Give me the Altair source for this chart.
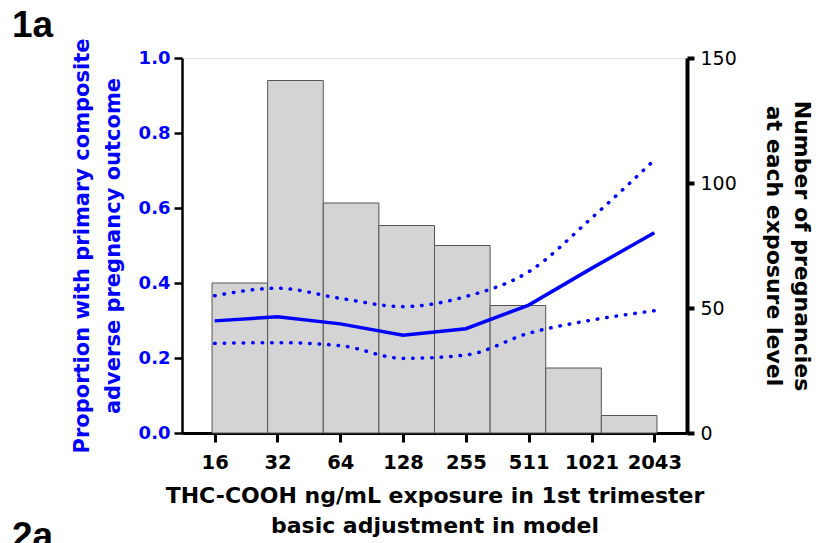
import altair as alt
import pandas as pd

# ---- data ----
x_labels = ["16", "32", "64", "128", "255", "511", "1021", "2043"]
prop_mid = [0.299, 0.310, 0.291, 0.261, 0.278, 0.341, 0.439, 0.534]
prop_upper = [0.366, 0.386, 0.359, 0.337, 0.364, 0.430, 0.573, 0.728]
prop_lower = [0.239, 0.241, 0.233, 0.199, 0.208, 0.266, 0.301, 0.326]
bar_counts = [60, 141, 92, 83, 75, 51, 26, 7]
panel_labels = ["1a", "2a"]

line_df = pd.DataFrame({
    "idx": list(range(len(x_labels))),
    "mid": prop_mid,
    "upper": prop_upper,
    "lower": prop_lower,
})
bar_df = pd.DataFrame({
    "start": list(range(len(bar_counts))),
    "end": [i + 1 for i in range(len(bar_counts))],
    "count": bar_counts,
})

FONT = "DejaVu Sans"
BLUE = "#0000ff"
label_expr = "[" + ",".join(f"'{l}'" for l in x_labels) + "][datum.value]"

x_axis = alt.Axis(
    values=list(range(len(x_labels))), labelExpr=label_expr,
    title=["THC-COOH ng/mL exposure in 1st trimester", "basic adjustment in model"],
    titleFont=FONT, titleFontSize=22, titleFontWeight="bold", titleColor="black",
    titleLineHeight=30, titlePadding=14,
    labelFont=FONT, labelFontSize=19.5, labelFontWeight="bold", labelColor="black",
    labelPadding=11, domainColor="black", domainWidth=3, tickColor="black",
    tickWidth=3, tickSize=9, grid=False,
)
x_line = alt.X("idx:Q", scale=alt.Scale(domain=[-0.52, 7.52], nice=False, zero=False), axis=x_axis)

y_axis_left = alt.Axis(
    orient="left", values=[0, 0.2, 0.4, 0.6, 0.8, 1.0], format=".1f",
    title=["Proportion with primary composite", "adverse pregnancy outcome"],
    titleFont=FONT, titleFontSize=21, titleFontWeight="bold", titleColor=BLUE,
    titleLineHeight=31, titlePadding=15,
    labelFont=FONT, labelFontSize=18, labelFontWeight="bold", labelColor=BLUE,
    labelPadding=4, domainColor="black", domainWidth=2.5, tickColor="black",
    tickWidth=2.5, tickSize=8, grid=False,
)
y_scale_left = alt.Scale(domain=[0, 1], nice=False)

mid = alt.Chart(line_df).mark_line(color=BLUE, strokeWidth=3.5).encode(
    x=x_line, y=alt.Y("mid:Q", scale=y_scale_left, axis=y_axis_left))
upper = alt.Chart(line_df).mark_line(
    color=BLUE, strokeWidth=3.5, strokeDash=[0.5, 9], strokeCap="round", interpolate="monotone"
).encode(x=x_line, y=alt.Y("upper:Q", scale=y_scale_left, axis=y_axis_left))
lower = alt.Chart(line_df).mark_line(
    color=BLUE, strokeWidth=3.5, strokeDash=[0.5, 9], strokeCap="round", interpolate="monotone"
).encode(x=x_line, y=alt.Y("lower:Q", scale=y_scale_left, axis=y_axis_left))

lines = alt.layer(mid, upper, lower)

bars = alt.Chart(bar_df).mark_rect(fill="#d4d4d4", stroke="#555555", strokeWidth=1).encode(
    x=alt.X("start:Q", scale=alt.Scale(domain=[-0.54, 8.54], nice=False, zero=False), axis=None),
    x2="end:Q",
    y=alt.Y("count:Q", scale=alt.Scale(domain=[0, 150], nice=False), axis=alt.Axis(
        orient="right", values=[0, 50, 100, 150],
        title=["Number of pregnancies", "at each exposure level"], titleAngle=90,
        titleFont=FONT, titleFontSize=22, titleFontWeight="bold", titleColor="black",
        titleLineHeight=28, titlePadding=25,
        labelFont=FONT, labelFontSize=19, labelFontWeight="normal", labelColor="black",
        labelPadding=6, domainColor="black", domainWidth=4, tickColor="black",
        tickWidth=4, tickSize=7, grid=False,
    )),
)

lab_df = pd.DataFrame({"t": panel_labels})
lab1 = alt.Chart(lab_df).transform_filter(alt.datum.t == panel_labels[0]).mark_text(
    font="Liberation Sans", fontSize=37, fontWeight="bold", align="left", baseline="alphabetic", color="black"
).encode(text="t:N", x=alt.value(-170), y=alt.value(-21))
lab2 = alt.Chart(lab_df).transform_filter(alt.datum.t == panel_labels[1]).mark_text(
    font="Liberation Sans", fontSize=37, fontWeight="bold", align="left", baseline="alphabetic", color="black"
).encode(text="t:N", x=alt.value(-170), y=alt.value(490))

chart = alt.layer(bars, lines, lab1, lab2).resolve_scale(
    x="independent", y="independent"
).properties(
    width=505, height=375,
    padding={"left": 182, "top": 58, "right": 132, "bottom": 110},
    autosize=alt.AutoSizeParams(type="none"),
).configure_view(stroke=None).configure(background="white")

chart.save("out.html", embed_options={"renderer": "svg", "actions": False})
